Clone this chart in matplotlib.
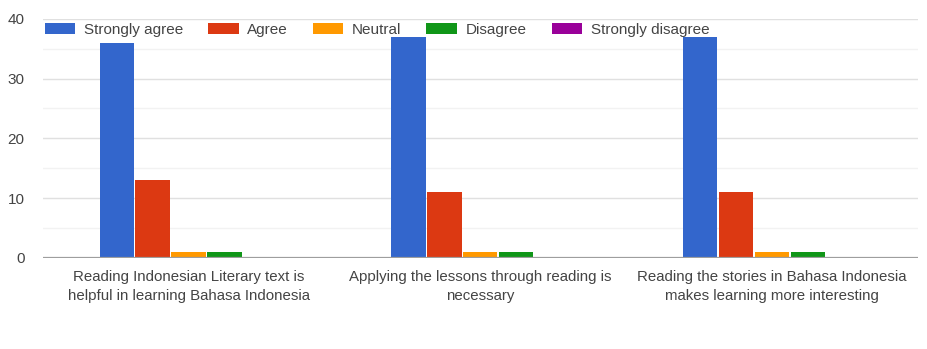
import matplotlib
matplotlib.use("Agg")
import matplotlib.pyplot as plt
import numpy as np

plt.rcParams['font.family'] = ['Liberation Sans', 'DejaVu Sans']

categories = [
    "Reading Indonesian Literary text is\nhelpful in learning Bahasa Indonesia",
    "Applying the lessons through reading is\nnecessary",
    "Reading the stories in Bahasa Indonesia\nmakes learning more interesting",
]
series_names = ["Strongly agree", "Agree", "Neutral", "Disagree", "Strongly disagree"]
strongly_agree = [36, 37, 37]
agree = [13, 11, 11]
neutral = [1, 1, 1]
disagree = [1, 1, 1]
strongly_disagree = [0, 0, 0]
series_values = [strongly_agree, agree, neutral, disagree, strongly_disagree]
colors = ["#3366cc", "#dc3912", "#ff9900", "#109618", "#990099"]
y_ticks = [0, 10, 20, 30, 40]

fig = plt.figure(figsize=(9.28, 3.49), dpi=100)
ax = fig.add_axes([0.046, 0.261, 0.943, 0.685])

x = np.arange(len(categories))
w = 0.123
n = len(series_values)
for i, (name, vals, c) in enumerate(zip(series_names, series_values, colors)):
    offs = (i - (n - 1) / 2) * w
    ax.bar(x + offs, vals, width=w * 0.96, color=c, label=name, zorder=3)

ax.set_xlim(-0.5, 2.5)
ax.set_ylim(0, 40)
ax.set_yticks(y_ticks)
ax.set_yticks([5, 15, 25, 35], minor=True)
ax.grid(axis='y', which='major', color='#e0e0e0', linewidth=1, zorder=0)
ax.grid(axis='y', which='minor', color='#f2f2f2', linewidth=1, zorder=0)
ax.axhline(0, color='#9e9e9e', linewidth=1.6, zorder=4)
for s in ax.spines.values():
    s.set_visible(False)
ax.tick_params(axis='both', which='both', length=0)
ax.tick_params(axis='y', labelsize=11, labelcolor='#444444', pad=13)
ax.set_xticks(x)
ax.set_xticklabels(categories, fontsize=10.8, color='#444444', linespacing=1.45)
ax.tick_params(axis='x', pad=9)

leg = fig.legend(loc='center left', bbox_to_anchor=(0.048, 0.914), ncol=5,
                 frameon=False, fontsize=11, handlelength=2.0, handleheight=0.7,
                 handletextpad=0.55, columnspacing=1.65, borderaxespad=0,
                 borderpad=0)
for t in leg.get_texts():
    t.set_color('#444444')

fig.savefig("out.png", dpi=100)
